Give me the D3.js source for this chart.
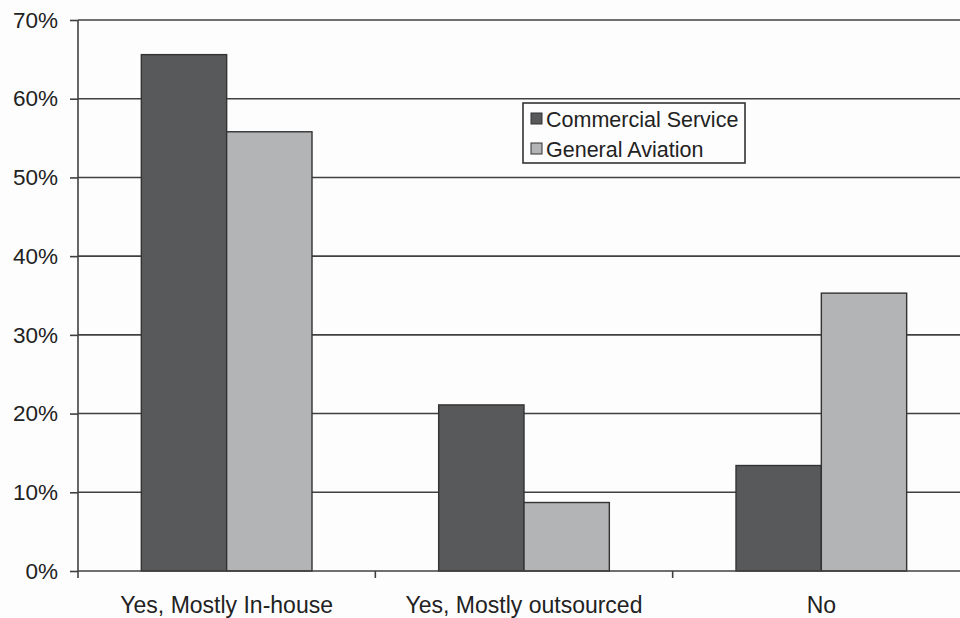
<!DOCTYPE html>
<html>
<head>
<meta charset="utf-8">
<script src="https://cdn.jsdelivr.net/npm/d3@7"></script>
<style>
  body { margin: 0; background: #fdfdfd; }
  svg { display: block; }
  text { font-family: "Liberation Sans", Arial, sans-serif; fill: #222; }
</style>
</head>
<body>
<div id="chart"></div>
<script>
'use strict';

var categories = ["Yes, Mostly In-house", "Yes, Mostly outsourced", "No"];
var seriesNames = ["Commercial Service", "General Aviation"];
var commercialService = [65.6, 21.1, 13.4];
var generalAviation = [55.8, 8.7, 35.3];
var yTicks = [0, 10, 20, 30, 40, 50, 60, 70];

var width = 960, height = 618;
var margin = { top: 20, right: -10, bottom: 47, left: 78 };

var series = [commercialService, generalAviation];
var colors = ["#58595b", "#b3b4b6"];

var svg = d3.select("#chart")
  .append("svg")
  .attr("width", width)
  .attr("height", height);

var x0 = d3.scaleBand()
  .domain(categories)
  .range([margin.left, width - margin.right])
  .padding(0);

var x1 = d3.scaleBand()
  .domain(seriesNames)
  .range([x0.bandwidth() * 0.213, x0.bandwidth() * 0.787])
  .padding(0);

var y = d3.scaleLinear()
  .domain([0, 70])
  .range([height - margin.bottom, margin.top]);

// gridlines
svg.append("g")
  .selectAll("line")
  .data(yTicks.slice(1))
  .enter()
  .append("line")
  .attr("x1", margin.left)
  .attr("x2", width)
  .attr("y1", function(d) { return y(d); })
  .attr("y2", function(d) { return y(d); })
  .attr("stroke", "#404040")
  .attr("stroke-width", 1.6);

// bars
var groups = svg.append("g")
  .selectAll("g")
  .data(categories)
  .enter()
  .append("g")
  .attr("transform", function(d) { return "translate(" + x0(d) + ",0)"; });

groups.selectAll("rect")
  .data(function(d, i) {
    return series.map(function(s, j) { return { name: seriesNames[j], value: s[i], idx: j }; });
  })
  .enter()
  .append("rect")
  .attr("x", function(d) { return x1(d.name); })
  .attr("y", function(d) { return y(d.value); })
  .attr("width", x1.bandwidth())
  .attr("height", function(d) { return y(0) - y(d.value); })
  .attr("fill", function(d) { return colors[d.idx]; })
  .attr("stroke", "#333")
  .attr("stroke-width", 1.4);

// y axis
var yAxis = svg.append("g")
  .attr("transform", "translate(" + margin.left + ",0)")
  .call(d3.axisLeft(y)
    .tickValues(yTicks)
    .tickSize(8)
    .tickPadding(12)
    .tickFormat(function(d) { return d + "%"; }));

yAxis.select(".domain").attr("stroke", "#404040").attr("stroke-width", 1.6)
  .attr("d", "M0," + y(70) + "V" + (y(0) + 7));
yAxis.selectAll(".tick line").attr("stroke", "#404040").attr("stroke-width", 1.6);
yAxis.selectAll(".tick text")
  .attr("font-size", 22.5)
  .attr("fill", "#222")
  .attr("font-family", "Liberation Sans, Arial, sans-serif");

// x axis
var xAxisG = svg.append("g")
  .attr("transform", "translate(0," + y(0) + ")");

xAxisG.append("line")
  .attr("x1", margin.left)
  .attr("x2", width)
  .attr("stroke", "#404040")
  .attr("stroke-width", 1.6);

xAxisG.selectAll(".sep")
  .data(categories.slice(1))
  .enter()
  .append("line")
  .attr("class", "sep")
  .attr("x1", function(d) { return x0(d); })
  .attr("x2", function(d) { return x0(d); })
  .attr("y1", 0)
  .attr("y2", 7)
  .attr("stroke", "#404040")
  .attr("stroke-width", 1.6);

xAxisG.selectAll(".cat")
  .data(categories)
  .enter()
  .append("text")
  .attr("class", "cat")
  .attr("x", function(d) { return x0(d) + x0.bandwidth() / 2; })
  .attr("y", 42)
  .attr("text-anchor", "middle")
  .attr("font-size", 23)
  .text(function(d) { return d; });

// legend
var legend = svg.append("g")
  .attr("transform", "translate(523,103)");

legend.append("rect")
  .attr("width", 222)
  .attr("height", 60)
  .attr("fill", "#fdfdfd")
  .attr("stroke", "#333")
  .attr("stroke-width", 1.6);

var items = legend.selectAll(".item")
  .data(seriesNames)
  .enter()
  .append("g")
  .attr("class", "item")
  .attr("transform", function(d, i) { return "translate(8," + (16 + i * 30) + ")"; });

items.append("rect")
  .attr("x", 0)
  .attr("y", -6)
  .attr("width", 11)
  .attr("height", 11)
  .attr("fill", function(d, i) { return colors[i]; })
  .attr("stroke", "#333")
  .attr("stroke-width", 1);

items.append("text")
  .attr("x", 15)
  .attr("y", 7.5)
  .attr("font-size", 21.5)
  .text(function(d) { return d; });
</script>
</body>
</html>
